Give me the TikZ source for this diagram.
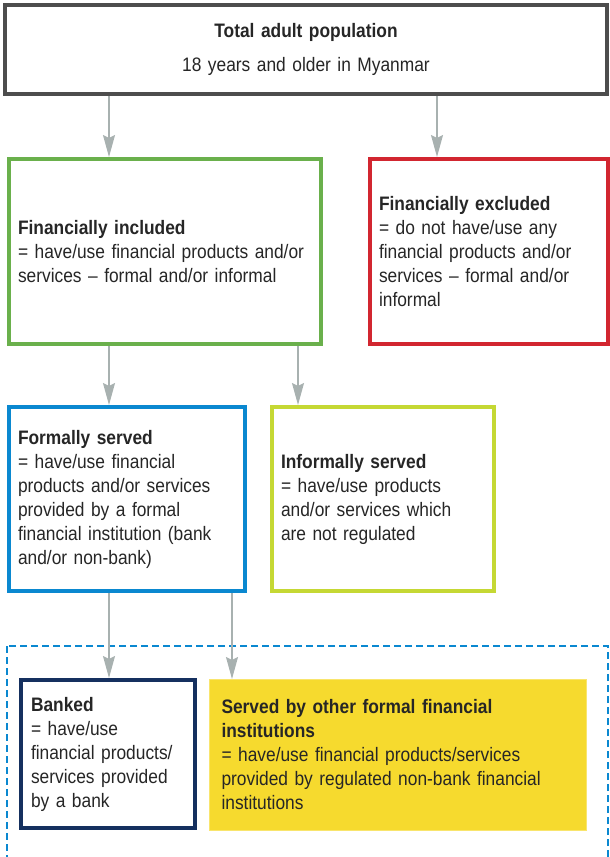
\documentclass[tikz,border=0pt]{standalone}
\usepackage{fontspec}
\setmainfont{Liberation Sans}[FakeStretch=0.89]
\usetikzlibrary{arrows.meta}

\definecolor{framegray}{HTML}{4D4D4D}
\definecolor{inclgreen}{HTML}{6AB04C}
\definecolor{exclred}{HTML}{D22630}
\definecolor{formalblue}{HTML}{0A88D0}
\definecolor{informallime}{HTML}{C5D834}
\definecolor{banknavy}{HTML}{15305F}
\definecolor{otheryellow}{HTML}{F6DA2E}
\definecolor{arrowgray}{HTML}{A8B1B0}
\definecolor{textdark}{HTML}{262626}

\begin{document}
\begin{tikzpicture}[x=1pt, y=-1pt, font=\fontsize{19.5}{24}\selectfont,
	panel/.style = { rectangle, draw, line width=4pt, fill=white,
	text=textdark, anchor=north west, align=left, inner xsep=9pt},
	link/.style = { draw=arrowgray, line width=1.5pt,
	-{Stealth[length=22pt, width=12pt, inset=3pt]} } ]

  \useasboundingbox (0,0) rectangle (610,857);

  \draw [formalblue, line width=2.5pt, dash pattern=on 7pt off 4pt]
	(7,646) rectangle (608,880);

  \node [name=total, panel, draw=framegray, align=center,
	minimum width=602pt, minimum height=89pt, text width=584pt]
	at (3,3) { \textbf{Total adult population}\\[10pt]
	18 years and older in Myanmar };
  \node [name=incl, panel, draw=inclgreen,
	minimum width=312pt, minimum height=185pt, text width=294pt]
	at (7,157) { \textbf{Financially included}\\
	= have/use financial products and/or\\
	services – formal and/or informal };
  \node [name=excl, panel, draw=exclred,
	minimum width=238pt, minimum height=185pt, text width=220pt]
	at (368,157) { \textbf{Financially excluded}\\
	= do not have/use any\\ financial products and/or\\
	services – formal and/or\\ informal };
  \node [name=formal, panel, draw=formalblue,
	minimum width=236pt, minimum height=184pt, text width=218pt]
	at (7,405) { \textbf{Formally served}\\
	= have/use financial\\ products and/or services\\
	provided by a formal\\ financial institution (bank\\
	and/or non-bank) };
  \node [name=informal, panel, draw=informallime,
	minimum width=222pt, minimum height=184pt, text width=204pt]
	at (270,405) { \textbf{Informally served}\\
	= have/use products\\ and/or services which\\
	are not regulated };
  \node [name=banked, panel, draw=banknavy, inner xsep=10pt,
	minimum width=174pt, minimum height=148pt, text width=154pt]
	at (19,678) { \textbf{Banked}\\ = have/use\\
	financial products/\\ services provided\\ by a bank };
  \node [name=other, panel, draw=otheryellow!70!white, line width=1pt,
	fill=otheryellow, inner xsep=12pt,
	minimum width=377pt, minimum height=151pt, text width=353pt]
	at (209,679) { \textbf{Served by other formal financial}\\
	\textbf{institutions}\\
	= have/use financial products/services\\
	provided by regulated non-bank financial\\ institutions };

  \draw [link] (total.south -| 109,0) -- (incl.north -| 109,0);
  \draw [link] (total.south -| 437,0) -- (excl.north -| 437,0);
  \draw [link] (incl.south -| 109,0) -- (formal.north -| 109,0);
  \draw [link] (incl.south -| 298,0) -- (informal.north -| 298,0);
  \draw [link] (formal.south -| 109,0) -- (banked.north -| 109,0);
  \draw [link] (formal.south -| 232,0) -- (other.north -| 232,0);
\end{tikzpicture}
\end{document}
